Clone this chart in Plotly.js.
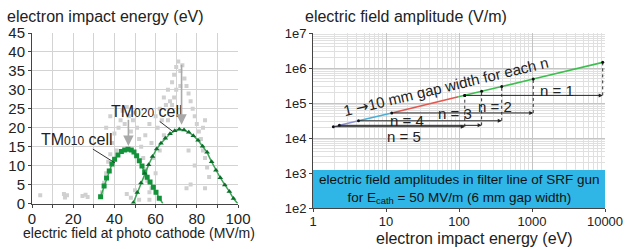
<!DOCTYPE html>
<html><head><meta charset="utf-8">
<script src="https://cdn.plot.ly/plotly-3.0.1.min.js"></script>
<style>html,body{margin:0;padding:0;background:#fff}#chart{width:626px;height:249px}</style>
</head><body><div id="chart"></div>
<script>
// ---------- LEFT CHART DATA ----------
const tm010X = [33.3,35,36.2,37.5,38.8,40.1,41.7,43.4,45,46.6,48.2,49.5,50.8,52.1,53.4,54.7,55.9,57.3,58.9,60.2,61.8,63.5];
const tm010Y = [1.8,4.6,6.7,8.6,10.4,11.7,12.8,13.7,14.1,14.3,14.1,13.6,12.6,11.3,9.9,8.3,6.9,5.7,4.3,3.0,1.4,0];
const tm020X = [49.2,51.1,52.9,54.7,56.6,58.5,60.5,62.6,64.7,67,69.3,71.5,73.8,76.1,78.3,80.6,82.8,85,87.2,89.3,91.4,93.6,95.8,97.8,99.8];
const tm020Y = [0.2,2.9,5.4,7.9,10.2,12.4,14.4,15.9,17.2,18.4,19.2,19.6,19.4,18.8,17.9,16.7,15.1,13.5,11.0,8.8,6.8,4.9,3.2,1.3,0];
const measX = [4,15.5,16,17,24.5,26,27,
  34,35,36,37,38,39,40,41,42,43,44,45,46,47,48,49,50,51,52,53,54,55,56,57,46,48,50,52,36,38,
  55,57,58,59,60,61,62,63,64,65,66,67,68,69,70,71,72,73,74,75,76,77,78,79,80,81,82,83,84,85,86,84,79,76,70,69,72,68,66,64,62,60,58,57,83,84,75,77];
const measY = [2.2,2.5,1.6,2.2,2,2.3,1.7,
  3,5.5,8,11,13,16,18.5,14,20,22,24.5,21,25.5,23,19,22,24,20,17,15,12,9,6,3,2.5,1.5,3.5,1,20,23,
  18,21,16,12,23,20,25,22,28,26,30,27,32,34,36,37.5,35,36.5,33,31,29,27,25,23,21,19,17,14,12,9.5,7,4,10,14,30,28,31,26,22,18,14,8,4,1,20,22,4,5];
const tmLabels = ['TM<span style="font-size:12px">010</span> cell','TM<span style="font-size:12px">020</span> cell'];

// ---------- RIGHT CHART DATA ----------
const lineEnergy = [1.9,2.3,4.2,12,98,120,204,385,1040,9300];
const lineField  = [2.1e4,2.3e4,3.1e4,5.2e4,1.5e5,1.65e5,2.15e5,2.95e5,4.85e5,1.45e6];
const nLabels = ['n = 1','n = 2','n = 3','n = 4','n = 5'];
const nStartEnergy = [120,12,4.2,2.3,1.9];
const nEndEnergy   = [9300,1040,385,204,120];
const nStartField  = [1.65e5,5.2e4,3.1e4,2.3e4,2.1e4];
const nEndField    = [1.45e6,4.85e5,2.95e5,2.15e5,1.65e5];
const xTickVals = [1,10,100,1000,10000];
const xTickText = ['1','10','100','1000','10000'];
const yTickVals = [1e2,1e3,1e4,1e5,1e6,1e7];
const yTickText = ['1e2','1e3','1e4','1e5','1e6','1e7'];

const FONT = 'Liberation Sans, Arial, sans-serif';
const GRID = '#d3d3d3';
const lg = Math.log10;

const traces = [];
traces.push({x:measX, y:measY, mode:'markers', xaxis:'x', yaxis:'y',
  marker:{symbol:'square', size:4, color:'#d0d0d0'}, hoverinfo:'skip'});
traces.push({x:tm010X, y:tm010Y, mode:'lines', xaxis:'x', yaxis:'y', line:{color:'#3aa655', width:1.5}});
traces.push({x:tm010X.slice(0,-1), y:tm010Y.slice(0,-1), mode:'markers', xaxis:'x', yaxis:'y',
  marker:{symbol:'square', size:5, color:'#12933a'}});
traces.push({x:tm020X, y:tm020Y, mode:'lines', xaxis:'x', yaxis:'y', line:{color:'#3aa655', width:1.5}});
traces.push({x:tm020X.slice(0,-1), y:tm020Y.slice(0,-1), mode:'markers', xaxis:'x', yaxis:'y',
  marker:{symbol:'triangle-up', size:5, color:'#0d6e2c'}});

const segs = [[0,2,'#8e90d4'],[2,3,'#4aaed6'],[3,4,'#e4574f'],[4,9,'#3dbf4f']];
segs.forEach(s=>{
  traces.push({x:lineEnergy.slice(s[0],s[1]+1), y:lineField.slice(s[0],s[1]+1), mode:'lines',
    xaxis:'x2', yaxis:'y2', line:{color:s[2], width:1.6}});
});
for (let i=0;i<nLabels.length;i++){
  traces.push({x:[nEndEnergy[i],nEndEnergy[i]], y:[nStartField[i],nEndField[i]], mode:'lines',
    xaxis:'x2', yaxis:'y2', line:{color:'#333', width:1, dash:'dot'}});
}
traces.push({x:nStartEnergy.concat(nEndEnergy), y:nStartField.concat(nEndField), mode:'markers',
  xaxis:'x2', yaxis:'y2', marker:{size:3, color:'#111'}});

const annotations = [];
annotations.push({xref:'paper', yref:'paper', x:5/626, y:1-16/249, xanchor:'left', yanchor:'middle',
  text:'electron impact energy (eV)', showarrow:false, font:{size:16, color:'#222'}});
annotations.push({xref:'paper', yref:'paper', x:139/626, y:1-233/249, xanchor:'center', yanchor:'middle',
  text:'electric field at photo cathode (MV/m)', showarrow:false, font:{size:14, color:'#222'}});
annotations.push({xref:'paper', yref:'paper', x:303/626, y:1-16/249, xanchor:'left', yanchor:'middle',
  text:'electric field amplitude (V/m)', showarrow:false, font:{size:16, color:'#222'}});
annotations.push({xref:'paper', yref:'paper', x:474/626, y:1-238.5/249, xanchor:'center', yanchor:'middle',
  text:'electron impact energy (eV)', showarrow:false, font:{size:16, color:'#222'}});
annotations.push({xref:'x', yref:'y', x:40.3, y:10.7, axref:'x', ayref:'y', ax:21.8, ay:17,
  text:tmLabels[0], showarrow:true, arrowhead:0, arrowwidth:1, arrowcolor:'#333', font:{size:16, color:'#222'}});
annotations.push({xref:'x', yref:'y', x:68.4, y:19, axref:'x', ayref:'y', ax:55.6, ay:24.3,
  text:tmLabels[1], showarrow:true, arrowhead:0, arrowwidth:1, arrowcolor:'#333', font:{size:16, color:'#222'}});
annotations.push({xref:'x', yref:'y', x:46.8, y:15.2, axref:'x', ayref:'y', ax:46.8, ay:22.5,
  text:'', showarrow:true, arrowhead:2, arrowsize:1.3, arrowwidth:1.6, arrowcolor:'#a9a9a9'});
annotations.push({xref:'x', yref:'y', x:72.6, y:20.8, axref:'x', ayref:'y', ax:72.6, ay:37,
  text:'', showarrow:true, arrowhead:2, arrowsize:1.3, arrowwidth:1.6, arrowcolor:'#a9a9a9'});
for (let i=0;i<nLabels.length;i++){
  annotations.push({xref:'x2', yref:'y2', x:lg(nEndEnergy[i]), y:lg(nStartField[i]),
    axref:'x2', ayref:'y2', ax:lg(nStartEnergy[i]), ay:lg(nStartField[i]),
    text:'', showarrow:true, arrowhead:2, arrowsize:0.8, arrowwidth:1, arrowcolor:'#222', standoff:0});
}
const nPos = [[3.342,5.37],[2.493,4.914],[1.945,4.686],[1.288,4.514],[1.24,4.057]];
for (let i=0;i<nLabels.length;i++){
  annotations.push({xref:'x2', yref:'y2', x:nPos[i][0], y:nPos[i][1], text:nLabels[i], showarrow:false,
    font:{size:15, color:'#222'}});
}
annotations.push({xref:'x2', yref:'y2', x:1.82, y:5.45,
  text:'1 <span style="font-family:DejaVu Sans">\u2192</span>10 mm gap width for each n',
  showarrow:false, textangle:-13.5, font:{size:15, color:'#222'}});
annotations.push({xref:'x2 domain', yref:'y2', x:0.5, y:2.557,
  text:'electric field amplitudes in filter line of SRF gun<br>for E<sub>cath</sub> = 50 MV/m (6 mm gap width)',
  showarrow:false, font:{size:13.5, color:'#111'}});

const layout = {
  width:626, height:249, margin:{l:0,r:0,t:0,b:0},
  paper_bgcolor:'#fff', plot_bgcolor:'#fff', showlegend:false,
  font:{family:FONT, color:'#222'},
  xaxis:{domain:[32/626,238/626], range:[0,100], tickmode:'linear', tick0:0, dtick:20,
    minor:{dtick:10, showgrid:true, gridcolor:GRID, ticks:'outside', ticklen:3, tickcolor:'#444'},
    showgrid:true, gridcolor:GRID, showline:true, linecolor:'#444', ticks:'outside', ticklen:3, tickcolor:'#444',
    tickfont:{size:15}, zeroline:false, anchor:'y', ticklabelstandoff:-2},
  yaxis:{domain:[45.5/249,216/249], range:[0,45], tickmode:'linear', tick0:0, dtick:5,
    showgrid:true, gridcolor:GRID, showline:true, linecolor:'#444', ticks:'outside', ticklen:3, tickcolor:'#444',
    tickfont:{size:15}, zeroline:false, anchor:'x', ticklabelstandoff:0},
  xaxis2:{type:'log', domain:[313/626,605/626], range:[0,4], tickmode:'array', tickvals:xTickVals, ticktext:xTickText,
    minor:{dtick:'D1', showgrid:true, gridcolor:'#e0e0e0'},
    showgrid:true, gridcolor:'#c4c4c4', showline:true, linecolor:'#444', ticks:'outside', ticklen:3, tickcolor:'#444',
    tickfont:{size:13}, zeroline:false, anchor:'y2', ticklabelstandoff:-2},
  yaxis2:{type:'log', domain:[41/249,216/249], range:[2,7], tickmode:'array', tickvals:yTickVals, ticktext:yTickText,
    minor:{dtick:'D1', showgrid:true, gridcolor:'#e0e0e0'},
    showgrid:true, gridcolor:'#c4c4c4', showline:true, linecolor:'#444', ticks:'outside', ticklen:3, tickcolor:'#444',
    tickfont:{size:13}, zeroline:false, anchor:'x2'},
  shapes:[{type:'rect', xref:'x2 domain', yref:'y2', x0:0, x1:1, y0:100, y1:1220, fillcolor:'#2fb6e6', line:{width:0}, layer:'above'}],
  annotations:annotations
};
Plotly.newPlot('chart', traces, layout, {staticPlot:true, displayModeBar:false});
</script></body></html>
